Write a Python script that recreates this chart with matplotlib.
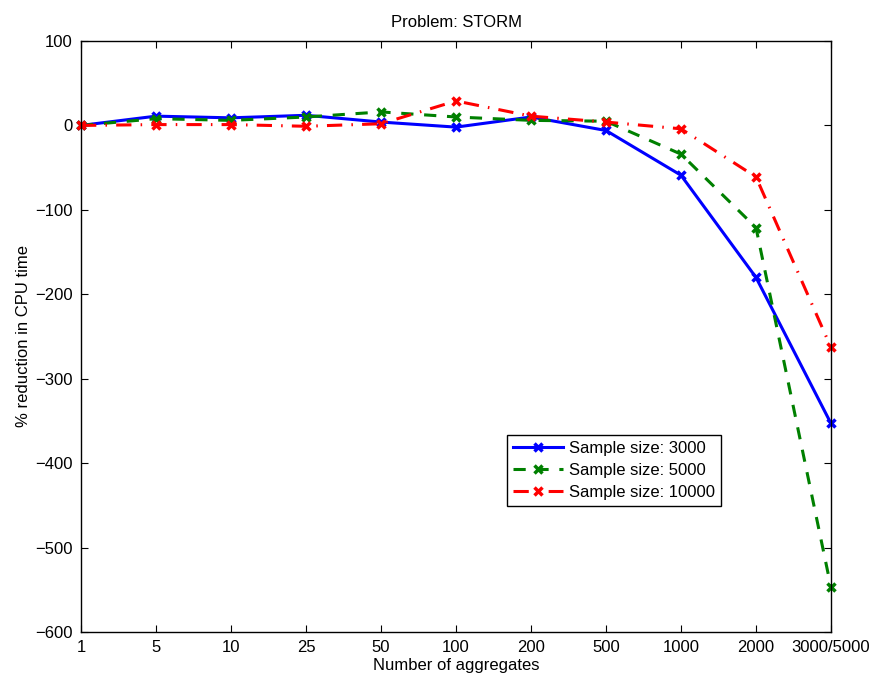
import numpy as np
import matplotlib.pyplot as plt

plt.rcParams['font.family'] = ['Liberation Sans', 'DejaVu Sans']

# x categories (evenly spaced on the axis)
aggregates = ['1', '5', '10', '25', '50', '100', '200', '500', '1000', '2000', '3000/5000']

# % reduction in CPU time per sample size
size_3000 = [0, 11, 9, 12, 4, -2, 10, -6, -59, -180, -353]
size_5000 = [0, 8, 6, 10, 16, 10, 6, 5, -34, -121, -547]
size_10000 = [0, 1, 1, -1, 2, 29, 11, 4, -4, -61, -263]

x = np.arange(len(aggregates))

fig = plt.figure(figsize=(8.76, 6.8), dpi=100)
ax = fig.add_axes([0.0925, 0.0706, 0.8561, 0.8691])

common = dict(linewidth=2.2, marker='x', markersize=6, markeredgewidth=2.5, clip_on=False)
ax.plot(x, size_3000, color='#0000ff', linestyle='-', label='Sample size: 3000', **common)
ax.plot(x, size_5000, color='#008000', linestyle='--', dashes=(4, 3.5),
        label='Sample size: 5000', **common)
ax.plot(x, size_10000, color='#ff0000', linestyle='-.', dashes=(5, 3, 0.5, 3),
        label='Sample size: 10000', **common)

ax.set_xlim(0, len(aggregates) - 1)
ax.set_ylim(-600, 100)
ax.set_xticks(x)
ax.set_xticklabels(aggregates)
ax.set_yticks(np.arange(-600, 101, 100))

ax.tick_params(direction='in', top=True, right=True, length=5, labelsize=12, pad=6)
for s in ax.spines.values():
    s.set_linewidth(1.0)

ax.set_title('Problem: STORM', fontsize=12, pad=10)
ax.set_xlabel('Number of aggregates', fontsize=12, labelpad=2)
ax.set_ylabel('% reduction in CPU time', fontsize=12, labelpad=3)

leg = ax.legend(loc='upper left', bbox_to_anchor=(0.568, 0.333), borderaxespad=0,
                fontsize=12, fancybox=False, framealpha=1, edgecolor='black',
                numpoints=1, handlelength=3.0, handletextpad=0.4,
                borderpad=0.35, labelspacing=0.42)
leg.get_frame().set_linewidth(1.0)

fig.savefig('out.png', dpi=100)
